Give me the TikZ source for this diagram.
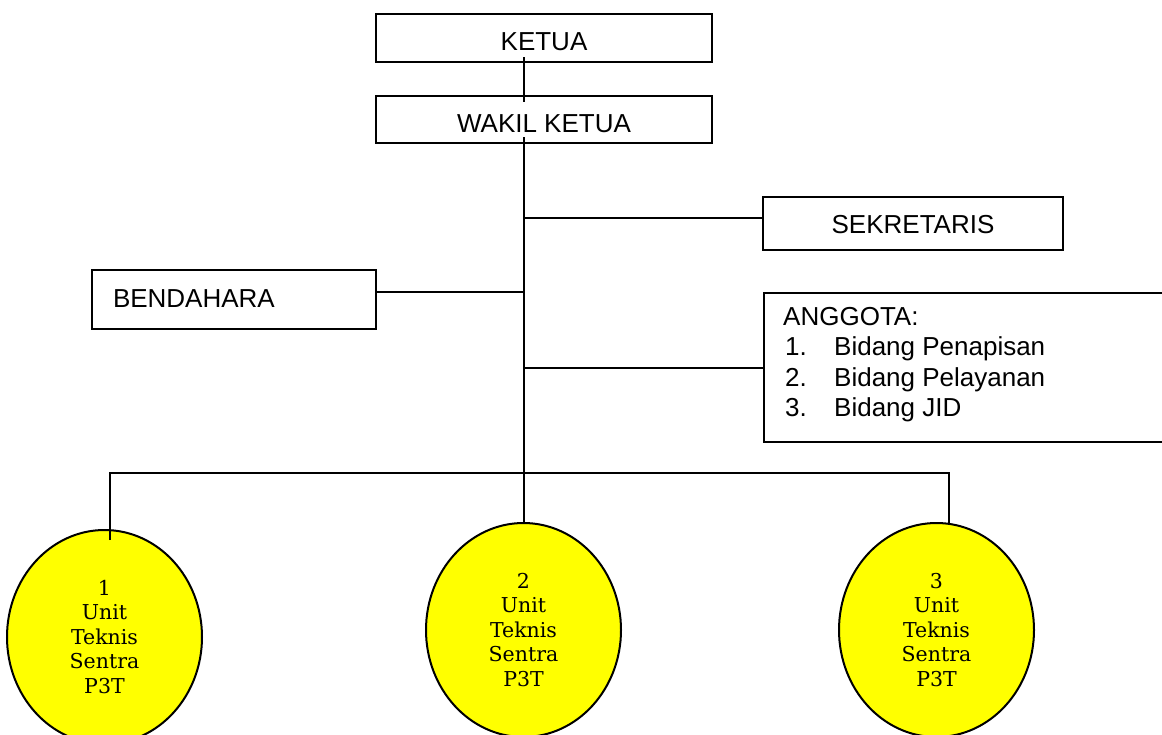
\documentclass[tikz,border=0pt]{standalone}
\usepackage{fontspec}
\setmainfont{Liberation Sans}
\newfontfamily\ellfont{DejaVu Serif}
\usetikzlibrary{shapes.geometric}
\definecolor{unityellow}{RGB}{255,255,0}
\begin{document}
\begin{tikzpicture}[x=1pt,y=-1pt,
  conn/.style={line width=2pt},
  orgbox/.style={draw, line width=2pt, rectangle, inner sep=0pt, font=\fontsize{26}{30}\selectfont},
  unit/.style={draw, line width=2pt, ellipse, fill=unityellow, inner sep=0pt, align=center,
    minimum width=195, minimum height=214, font=\ellfont\fontsize{20.5}{24.5}\selectfont},
  txt/.style={inner sep=0pt, anchor=base west, font=\fontsize{26}{30}\selectfont}]
\useasboundingbox (0,0) rectangle (1162,734);
\clip (0,0) rectangle (1162,734);

% boxes
\node[orgbox, minimum width=336, minimum height=48, text height=24, text depth=0] (ketua) at (544,38) {KETUA};
\node[orgbox, minimum width=336, minimum height=47, text height=25, text depth=0] (wakil) at (544,119.5) {WAKIL KETUA};
\node[orgbox, minimum width=300, minimum height=53, text height=19, text depth=0] (sek) at (913,223.5) {SEKRETARIS};
\node[orgbox, minimum width=284, minimum height=59, text height=15, text depth=0, text width=242, align=left] (bend) at (234,299.5) {BENDAHARA};
\node[orgbox, anchor=north west, minimum width=460, minimum height=149] (angg) at (763,292) {};
\node[txt] (a0) at (783,325) {ANGGOTA:};
\node[txt] (a1) at (785,355.5) {1.};
\node[txt] (a1t) at (834,355.5) {Bidang Penapisan};
\node[txt] (a2) at (785,386) {2.};
\node[txt] (a2t) at (834,386) {Bidang Pelayanan};
\node[txt] (a3) at (785,416.5) {3.};
\node[txt] (a3t) at (834,416.5) {Bidang JID};

% units
\node[unit] (u1) at (104.5,637) {1\\Unit\\Teknis\\Sentra\\P3T};
\node[unit] (u2) at (523.5,630) {2\\Unit\\Teknis\\Sentra\\P3T};
\node[unit] (u3) at (936.5,630) {3\\Unit\\Teknis\\Sentra\\P3T};

% connector points
\coordinate (k1) at (523.5,57);
\coordinate (w0) at (523.5,102);
\coordinate (w1) at (523.5,137);
\coordinate (jsek) at (523.5,218);
\coordinate (jbend) at (523.5,292);
\coordinate (jang) at (523.5,367.5);
\coordinate (l1) at (110,472.5);
\coordinate (l1e) at (110,540);
\coordinate (r1) at (949,472.5);
\coordinate (r1e) at (949,524);

\draw[conn] (k1) -- (w0);
\draw[conn] (w1) -- (w1 |- u2.north);
\draw[conn] (jsek) -- (sek.west |- jsek);
\draw[conn] (bend.east |- jbend) -- (jbend);
\draw[conn] (jang) -- (angg.west |- jang);
\draw[conn] (l1e) -- (l1) -- (r1) -- (r1e);
\end{tikzpicture}
\end{document}
